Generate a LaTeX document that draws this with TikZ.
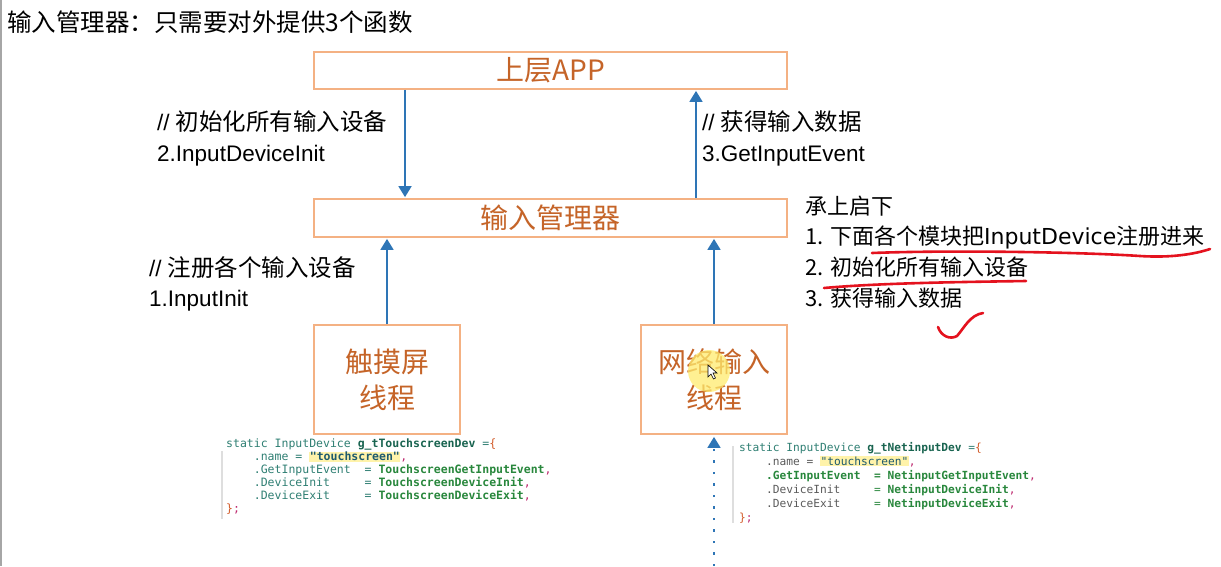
\documentclass[tikz,border=0pt]{standalone}
\usepackage{fontspec}
\setmainfont{Liberation Sans}
\setmonofont{DejaVu Sans Mono}
\newfontfamily\cjk{Noto Sans CJK SC}
\newfontfamily\dvs{DejaVu Sans}
\usetikzlibrary{arrows.meta}
\definecolor{boxline}{RGB}{244,177,131}
\definecolor{boxtext}{RGB}{197,100,40}
\definecolor{arrblue}{RGB}{46,117,182}
\definecolor{annred}{RGB}{228,18,30}
\definecolor{cteal}{RGB}{47,127,115}
\definecolor{cgreen}{RGB}{40,135,60}
\definecolor{cdark}{RGB}{25,100,80}
\definecolor{cstr}{RGB}{30,90,110}
\definecolor{chl}{RGB}{255,243,170}
\definecolor{cmag}{RGB}{190,40,110}
\definecolor{corg}{RGB}{210,90,40}
\definecolor{cgray}{RGB}{90,90,90}
\definecolor{glow}{RGB}{255,236,110}
\begin{document}
\begin{tikzpicture}[x=1pt,y=-1pt,
  box/.style={draw=boxline,line width=1.8pt,fill=white,inner sep=0pt,text=boxtext,
    font=\cjk\fontsize{28}{36}\selectfont,align=center},
  flow/.style={draw=arrblue,line width=1.8pt,-{Triangle[width=13pt,length=11pt]}},
  lbl/.style={anchor=base west,inner sep=0pt,font=\fontsize{22.5}{27}\selectfont},
  lcjk/.style={font=\cjk\fontsize{23.5}{27}\selectfont},
  note/.style={anchor=base west,inner sep=0pt,font=\cjk\fontsize{22}{27}\selectfont},
  code/.style={anchor=north west,inner sep=0pt,align=left},
  ann/.style={draw=annred,line width=2.6pt,line cap=round,line join=round},
  bracket/.style={draw=black!13,line width=1.4pt}
]
\useasboundingbox (0,0) rectangle (1221,566);
\fill[white] (0,0) rectangle (1221,566);
\draw[black!35,line width=1.5pt] (1,0) -- (1,566);

% title
\node[anchor=base west,inner sep=0pt,font=\cjk\fontsize{24.5}{30}\selectfont] (title) at (7,31) {输入管理器：只需要对外提供3个函数};

% boxes
\node[box,minimum width=473pt,minimum height=37pt] (app) at (550.5,70.5) {上层APP};
\node[box,minimum width=473pt,minimum height=38pt] (mgr) at (550.5,218) {输入管理器};
\node[box,minimum width=146pt,minimum height=109pt] (touch) at (387,379.5) {触摸屏\\线程};
\node[box,minimum width=146pt,minimum height=109pt] (net) at (714,379.5) {网络输入\\线程};

% arrows
\coordinate (xa) at (405,0);
\coordinate (xb) at (696,0);
\draw[flow,shorten >=1pt] (app.south -| xa) -- (mgr.north -| xa);
\draw[flow,shorten >=1pt] (mgr.north -| xb) -- (app.south -| xb);
\draw[flow,shorten >=1pt] (touch.north) -- (mgr.south -| touch.north);
\draw[flow,shorten >=1pt] (net.north) -- (mgr.south -| net.north);
\coordinate (dotstart) at (714,566);
\draw[flow,dash pattern=on 2.5pt off 9pt,shorten >=2pt] (dotstart) -- (net.south -| dotstart);

% labels
\node[lbl] (l1a) at (157,130) {// {\cjk\fontsize{23.5}{27}\selectfont 初始化所有输入设备}};
\node[lbl] (l1b) at (157,161) {2.InputDeviceInit};
\node[lbl] (l2a) at (702,130) {// {\cjk\fontsize{23.5}{27}\selectfont 获得输入数据}};
\node[lbl] (l2b) at (702,161) {3.GetInputEvent};
\node[lbl] (l3a) at (149,276) {// {\cjk\fontsize{23.5}{27}\selectfont 注册各个输入设备}};
\node[lbl] (l3b) at (149,306) {1.InputInit};

% right notes
\node[note] (n0) at (805,214) {承上启下};
\node[note] (n1) at (805,244) {1. 下面各个模块把{\dvs InputDevice}注册进来};
\node[note] (n2) at (805,275) {2. 初始化所有输入设备};
\node[note] (n3) at (805,306) {3. 获得输入数据};

% red annotations
\draw[ann] (872,253) .. controls (950,250) and (1080,252) .. (1140,256) .. controls (1172,258) and (1195,254) .. (1210,249);
\draw[ann] (824,288) .. controls (880,283) and (960,282) .. (1026,281);
\draw[ann] (938,327) .. controls (941,336) and (950,340) .. (957,336) .. controls (964,328) and (970,315) .. (983,313);

% cursor glow
\fill[glow,opacity=0.75] (709,371) circle (21);
\draw[black,fill=white,line width=0.6pt] (708,365) -- (708,377) -- (711,374) -- (713.5,379) -- (715.5,378) -- (713,373) -- (717,373) -- cycle;

% code blocks
\draw[bracket] (222,451) -- (222,519);
\draw[bracket] (733,446) -- (733,523);
\setlength{\fboxsep}{0.6pt}
\node[code,font=\ttfamily\fontsize{11.5}{13}\selectfont] (code1) at (226,439) {%
{\color{cteal}static InputDevice} {\bfseries\color{cdark}g\_tTouchscreenDev} {\color{cteal}=}{\color{corg}\{}\\
~~~~{\color{cteal}.name =} \colorbox{chl}{\bfseries\color{cstr}"touchscreen"}{\color{cmag},}\\
~~~~{\color{cteal}.GetInputEvent~~=} {\bfseries\color{cgreen}TouchscreenGetInputEvent}{\color{cmag},}\\
~~~~{\color{cteal}.DeviceInit~~~~~=} {\bfseries\color{cgreen}TouchscreenDeviceInit}{\color{cmag},}\\
~~~~{\color{cteal}.DeviceExit~~~~~=} {\bfseries\color{cgreen}TouchscreenDeviceExit}{\color{cmag},}\\
{\color{corg}\}}{\color{cmag};}};
\node[code,font=\ttfamily\fontsize{11.2}{14}\selectfont] (code2) at (739,442) {%
{\color{cteal}static InputDevice} {\bfseries\color{cdark}g\_tNetinputDev} {\color{cteal}=}{\color{corg}\{}\\
~~~~{\color{cgray}.name =} \colorbox{chl}{\color{cstr}"touchscreen"}{\color{cmag},}\\
~~~~{\bfseries\color{cgreen}.GetInputEvent~~= NetinputGetInputEvent}{\color{cmag},}\\
~~~~{\color{cgray}.DeviceInit}~~~~~{\color{cgreen}=} {\bfseries\color{cgreen}NetinputDeviceInit}{\color{cmag},}\\
~~~~{\color{cgray}.DeviceExit}~~~~~{\color{cgreen}=} {\bfseries\color{cgreen}NetinputDeviceExit}{\color{cmag},}\\
{\color{corg}\}}{\color{cmag};}};
\end{tikzpicture}
\end{document}
